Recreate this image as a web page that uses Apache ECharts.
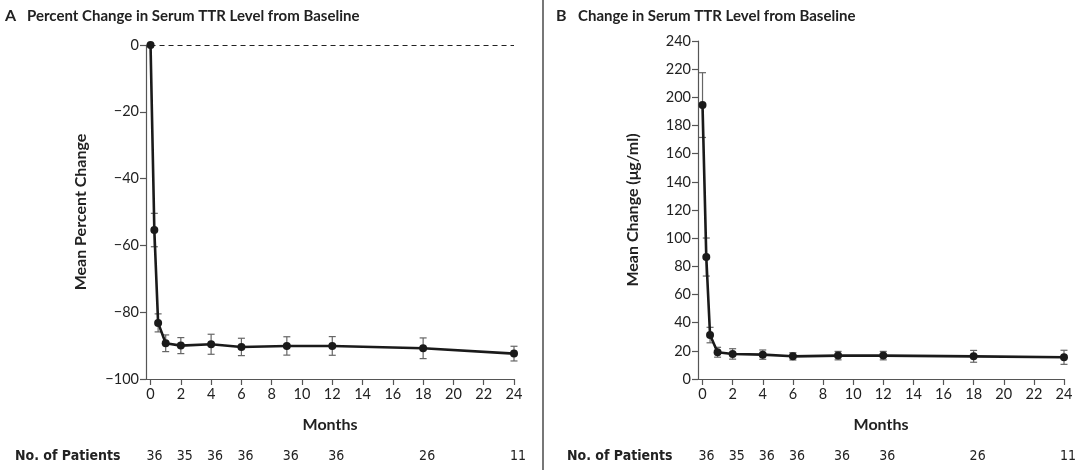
<!DOCTYPE html>
<html>
<head>
<meta charset="utf-8">
<script src="https://cdn.jsdelivr.net/npm/echarts@6/dist/echarts.min.js"></script>
<style>
html,body{margin:0;padding:0;background:#fff;}
#c{width:1080px;height:470px;}
</style>
</head>
<body>
<div id="c"></div>
<script>
// ---- data ----
const months = [0, 0.25, 0.5, 1, 2, 4, 6, 9, 12, 18, 24];
const pctMean = [0, -55.4, -83.2, -89.3, -90.0, -89.6, -90.4, -90.1, -90.1, -90.8, -92.4];
const pctErr  = [0, 5.0, 2.7, 2.5, 2.4, 3.0, 2.6, 2.75, 2.8, 3.1, 2.2];
const ugMean  = [194.5, 86.6, 31.2, 19.0, 17.8, 17.3, 16.1, 16.6, 16.6, 16.1, 15.4];
const ugErr   = [23, 13.5, 5.5, 3.5, 3.7, 3.3, 2.6, 3.0, 3.0, 4.2, 5.0];
const xTicks = [0, 2, 4, 6, 8, 10, 12, 14, 16, 18, 20, 22, 24];
const patientMonths = [0, 2, 4, 6, 9, 12, 18, 24];
const patientCounts = [36, 35, 36, 36, 36, 36, 26, 11];
const titleA = 'Percent Change in Serum TTR Level from Baseline';
const titleB = 'Change in Serum TTR Level from Baseline';

const FONT = 'Lato, "Open Sans", sans-serif';
const NARROW = '"Liberation Sans Narrow", "DejaVu Sans Condensed", Lato, sans-serif';
const AX = '#555';
const TXT = '#222';

function pairs(m, v) { return m.map((x, i) => [x, v[i]]); }
function errData(m, v, e) { return m.map((x, i) => [x, v[i] - e[i], v[i] + e[i]]).filter((d, i) => e[i] > 0); }

function errSeries(idx, data) {
  return {
    type: 'custom', xAxisIndex: idx, yAxisIndex: idx, z: 1, silent: true,
    data: data,
    encode: { x: 0, y: [1, 2] },
    renderItem: function (params, api) {
      const x = api.value(0);
      const lo = api.coord([x, api.value(1)]);
      const hi = api.coord([x, api.value(2)]);
      const w = 3.5;
      const st = { stroke: '#666', lineWidth: 1.2 };
      return {
        type: 'group', children: [
          { type: 'line', shape: { x1: lo[0], y1: lo[1], x2: hi[0], y2: hi[1] }, style: st },
          { type: 'line', shape: { x1: lo[0] - w, y1: lo[1], x2: lo[0] + w, y2: lo[1] }, style: st },
          { type: 'line', shape: { x1: hi[0] - w, y1: hi[1], x2: hi[0] + w, y2: hi[1] }, style: st }
        ]
      };
    }
  };
}

function xAxis(idx) {
  return {
    type: 'value', gridIndex: idx, min: -0.3, max: 24, position: 'bottom',
    name: 'Months', nameLocation: 'middle', nameGap: 38,
    nameTextStyle: { fontFamily: FONT, fontWeight: 'bold', fontSize: 16, color: TXT },
    axisLine: { show: true, onZero: false, lineStyle: { color: AX, width: 1.2 } },
    axisTick: { show: true, length: 6, lineStyle: { color: AX, width: 1.2 }, customValues: xTicks },
    axisLabel: { fontFamily: FONT, fontSize: 14.5, color: TXT, margin: 8, customValues: xTicks },
    splitLine: { show: false }
  };
}

const chart = echarts.init(document.getElementById('c'), null, { renderer: 'canvas' });

const option = {
  animation: false,
  backgroundColor: '#fff',
  grid: [
    { left: 146, top: 45, width: 368, height: 334 },
    { left: 698, top: 41, width: 366, height: 338 }
  ],
  xAxis: [xAxis(0), xAxis(1)],
  yAxis: [
    {
      type: 'value', gridIndex: 0, min: -100, max: 0, interval: 20,
      name: 'Mean Percent Change', nameLocation: 'middle', nameGap: 57,
      nameTextStyle: { fontFamily: FONT, fontWeight: 'bold', fontSize: 16, color: TXT },
      axisLine: { show: true, onZero: false, lineStyle: { color: AX, width: 1.2 } },
      axisTick: { show: true, length: 6, lineStyle: { color: AX, width: 1.2 } },
      axisLabel: { fontFamily: FONT, fontSize: 14.5, color: TXT, margin: 7,
        formatter: v => String(v).replace('-', '\u2212') },
      splitLine: { show: false }
    },
    {
      type: 'value', gridIndex: 1, min: 0, max: 240, interval: 20,
      name: 'Mean Change (\u03bcg/ml)', nameLocation: 'middle', nameGap: 57,
      nameTextStyle: { fontFamily: FONT, fontWeight: 'bold', fontSize: 16, color: TXT },
      axisLine: { show: true, onZero: false, lineStyle: { color: AX, width: 1.2 } },
      axisTick: { show: true, length: 6, lineStyle: { color: AX, width: 1.2 } },
      axisLabel: { fontFamily: FONT, fontSize: 14.5, color: TXT, margin: 7 },
      splitLine: { show: false }
    }
  ],
  series: [
    errSeries(0, errData(months, pctMean, pctErr)),
    {
      type: 'line', xAxisIndex: 0, yAxisIndex: 0, z: 3,
      data: pairs(months, pctMean),
      symbol: 'circle', symbolSize: 8,
      lineStyle: { color: '#1a1a1a', width: 2.6 },
      itemStyle: { color: '#1a1a1a' },
      markLine: {
        silent: true, symbol: 'none', z: 0,
        label: { show: false },
        lineStyle: { color: '#222', type: [5, 4], width: 1 },
        data: [[{ coord: [0, 0] }, { coord: [24, 0] }]]
      }
    },
    errSeries(1, errData(months, ugMean, ugErr)),
    {
      type: 'line', xAxisIndex: 1, yAxisIndex: 1, z: 3,
      data: pairs(months, ugMean),
      symbol: 'circle', symbolSize: 8,
      lineStyle: { color: '#1a1a1a', width: 2.6 },
      itemStyle: { color: '#1a1a1a' }
    }
  ]
};
chart.setOption(option);

// titles, divider, patient counts
function txt(x, y, s, size, weight, family, align) {
  return { type: 'text', x: x, y: y,
    style: { text: s, fontSize: size, fontWeight: weight, fontFamily: family, fill: TXT,
      align: align || 'left', verticalAlign: 'middle' } };
}
const g = [
  { type: 'rect', shape: { x: 542, y: 0, width: 2, height: 470 }, style: { fill: '#777' } },
  txt(5, 16, 'A', 16, 'bold', FONT),
  txt(27, 16, titleA, 15, 'bold', FONT),
  txt(556, 16, 'B', 16, 'bold', FONT),
  txt(578, 16, titleB, 15, 'bold', FONT),
  txt(15, 456, 'No. of Patients', 14, 'bold', NARROW),
  txt(567, 456, 'No. of Patients', 14, 'bold', NARROW)
];
[0, 1].forEach(gi => {
  patientMonths.forEach((m, i) => {
    const p = chart.convertToPixel({ gridIndex: gi }, [m, gi === 0 ? -100 : 0]);
    g.push(txt(p[0] + 4, 456, String(patientCounts[i]), 14, 'normal', NARROW, 'center'));
  });
});
chart.setOption({ graphic: g });
</script>
</body>
</html>
